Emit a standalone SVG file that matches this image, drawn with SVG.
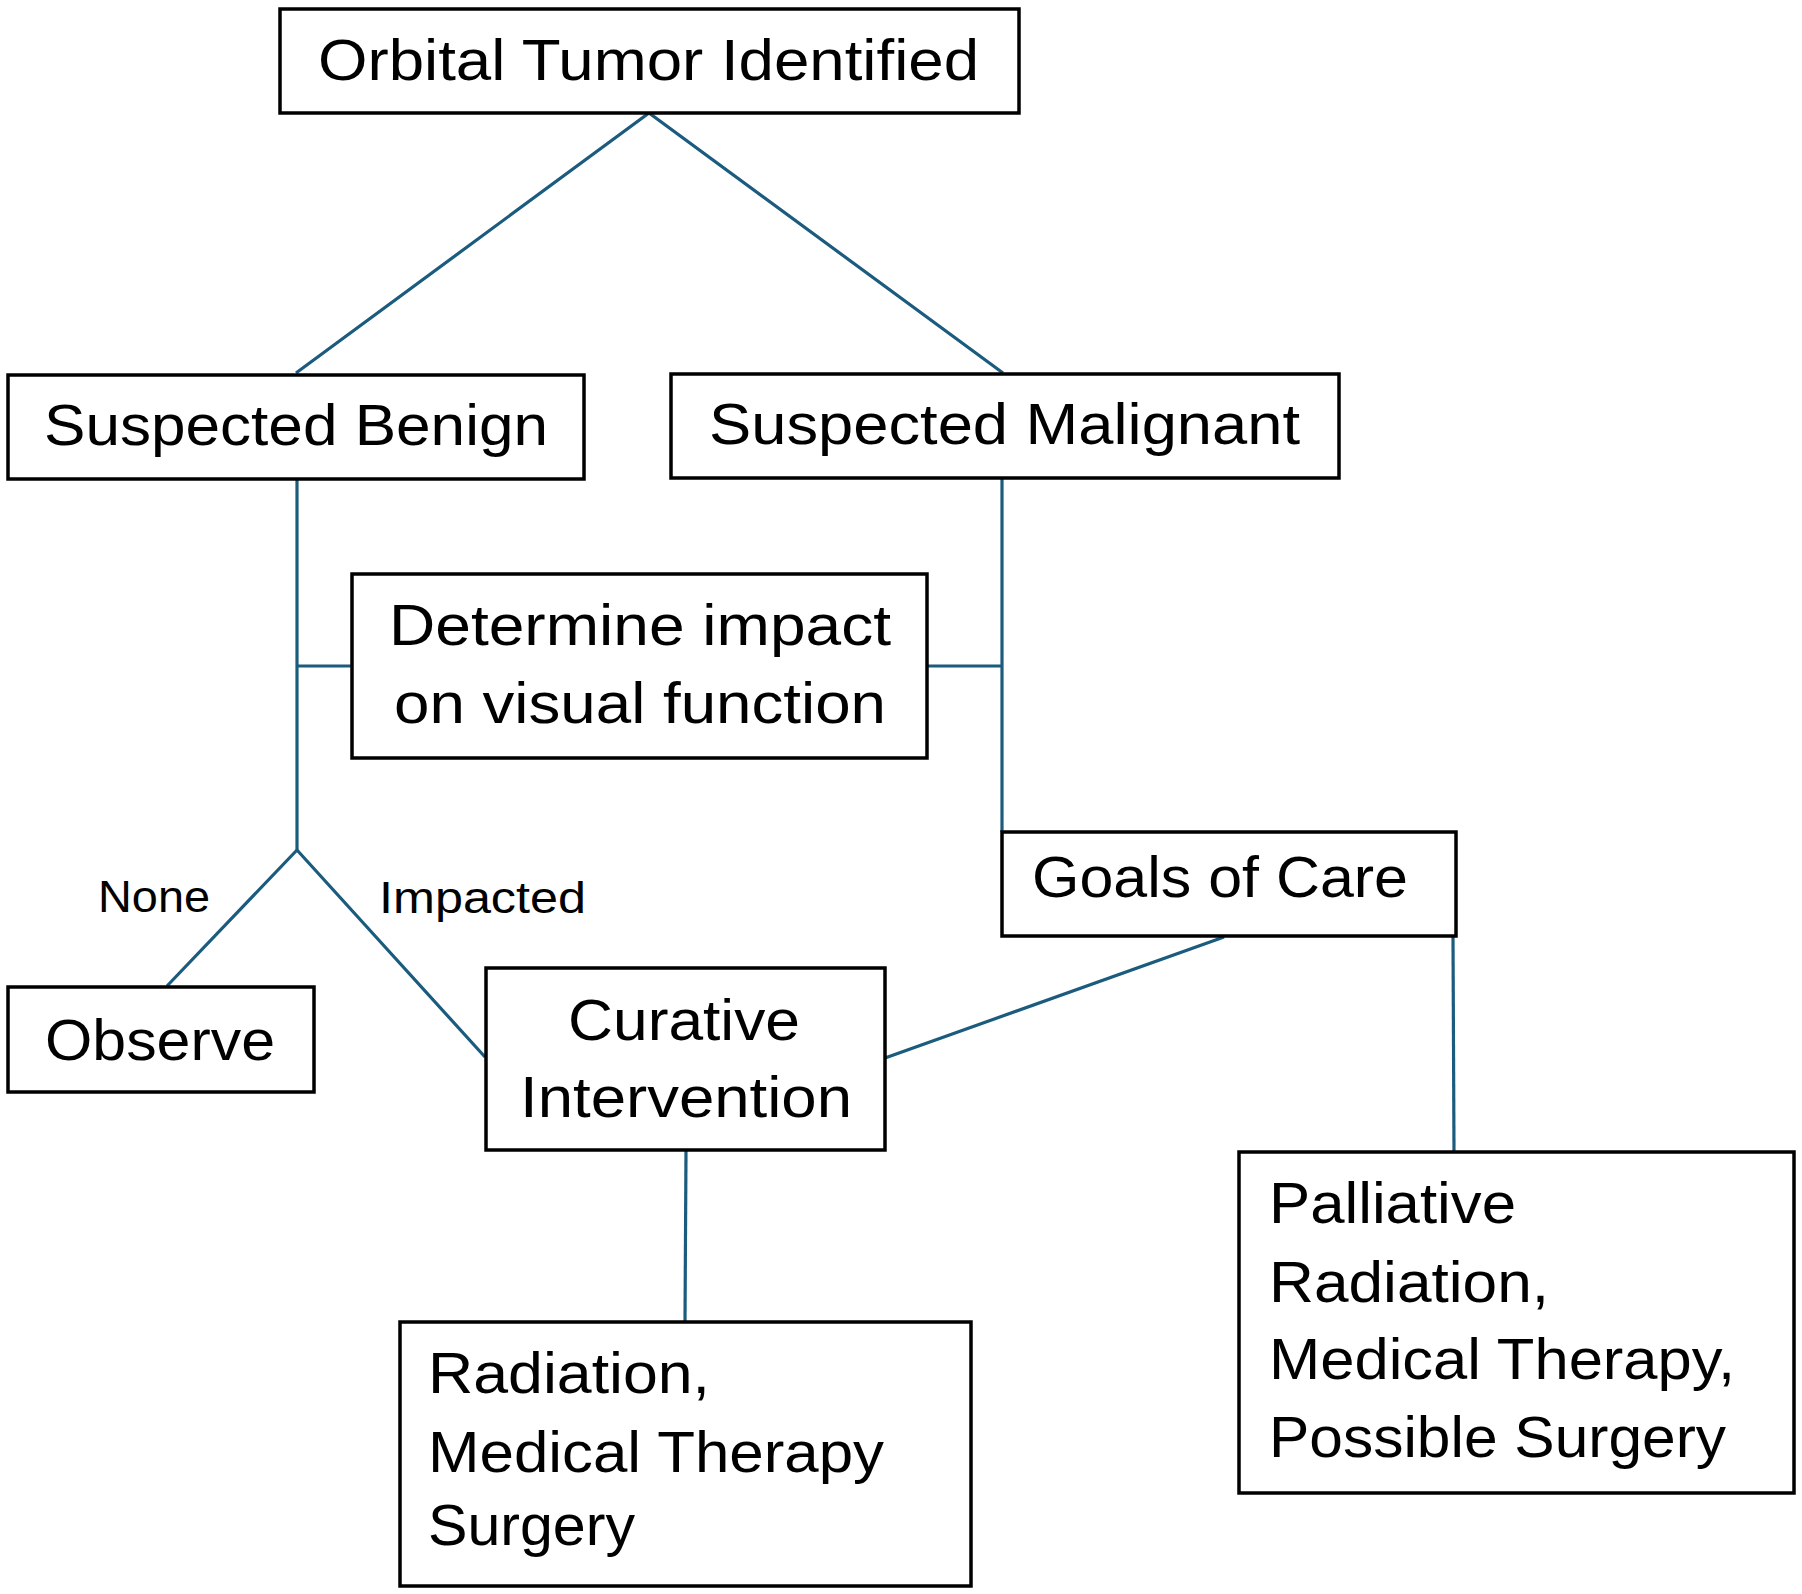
<svg xmlns="http://www.w3.org/2000/svg" width="1802" height="1594" viewBox="0 0 1802 1594">
<style>
.box{fill:#ffffff;stroke:#000000;stroke-width:3.5}
.t{font-family:"Liberation Sans",Arial,sans-serif;font-size:58px;fill:#000000}
.lbl{font-family:"Liberation Sans",Arial,sans-serif;font-size:45px;fill:#000000}
.c{stroke:#1b5b7e;stroke-width:3.2;fill:none}
</style>
<rect width="1802" height="1594" fill="#ffffff"/>
<g id="connectors">
<polyline class="c" points="296,373 649,113 1003,373"/>
<line class="c" x1="297" y1="480" x2="297" y2="850"/>
<line class="c" x1="297" y1="666" x2="352" y2="666" stroke-width="4"/>
<line class="c" x1="1002" y1="479" x2="1002" y2="832"/>
<line class="c" x1="927" y1="666" x2="1002" y2="666" stroke-width="4"/>
<polyline class="c" points="167,986 297,850 485,1057"/>
<line class="c" x1="1224" y1="937" x2="885" y2="1058" stroke-width="4"/>
<line class="c" x1="1453" y1="937" x2="1454" y2="1152"/>
<line class="c" x1="686" y1="1151" x2="685" y2="1322"/>
</g>
<g id="labels">
<text class="lbl" x="98" y="912" textLength="112" lengthAdjust="spacingAndGlyphs">None</text>
<text class="lbl" x="379" y="913" textLength="207" lengthAdjust="spacingAndGlyphs">Impacted</text>
</g>
<g id="orbital">
<rect class="box" x="280" y="9" width="739" height="104"/>
<text class="t" x="318" y="80" textLength="661" lengthAdjust="spacingAndGlyphs">Orbital Tumor Identified</text>
</g>
<g id="benign">
<rect class="box" x="8" y="375" width="576" height="104"/>
<text class="t" x="44" y="445" textLength="504" lengthAdjust="spacingAndGlyphs">Suspected Benign</text>
</g>
<g id="malignant">
<rect class="box" x="671" y="374" width="668" height="104"/>
<text class="t" x="709" y="444" textLength="591" lengthAdjust="spacingAndGlyphs">Suspected Malignant</text>
</g>
<g id="determine">
<rect class="box" x="352" y="574" width="575" height="184"/>
<text class="t" x="389" y="645" textLength="502" lengthAdjust="spacingAndGlyphs">Determine impact</text>
<text class="t" x="394" y="723" textLength="492" lengthAdjust="spacingAndGlyphs">on visual function</text>
</g>
<g id="goals">
<rect class="box" x="1002" y="832" width="454" height="104"/>
<text class="t" x="1032" y="897" textLength="376" lengthAdjust="spacingAndGlyphs">Goals of Care</text>
</g>
<g id="observe">
<rect class="box" x="8" y="987" width="306" height="105"/>
<text class="t" x="45" y="1060" textLength="230" lengthAdjust="spacingAndGlyphs">Observe</text>
</g>
<g id="curative">
<rect class="box" x="486" y="968" width="399" height="182"/>
<text class="t" x="568" y="1040" textLength="232" lengthAdjust="spacingAndGlyphs">Curative</text>
<text class="t" x="520" y="1117" textLength="332" lengthAdjust="spacingAndGlyphs">Intervention</text>
</g>
<g id="radiation">
<rect class="box" x="400" y="1322" width="571" height="264"/>
<text class="t" x="428" y="1393" textLength="282" lengthAdjust="spacingAndGlyphs">Radiation,</text>
<text class="t" x="428" y="1472" textLength="456" lengthAdjust="spacingAndGlyphs">Medical Therapy</text>
<text class="t" x="428" y="1545" textLength="207" lengthAdjust="spacingAndGlyphs">Surgery</text>
</g>
<g id="palliative">
<rect class="box" x="1239" y="1152" width="555" height="341"/>
<text class="t" x="1269" y="1223" textLength="247" lengthAdjust="spacingAndGlyphs">Palliative</text>
<text class="t" x="1269" y="1302" textLength="280" lengthAdjust="spacingAndGlyphs">Radiation,</text>
<text class="t" x="1269" y="1379" textLength="466" lengthAdjust="spacingAndGlyphs">Medical Therapy,</text>
<text class="t" x="1269" y="1457" textLength="457" lengthAdjust="spacingAndGlyphs">Possible Surgery</text>
</g>
</svg>
